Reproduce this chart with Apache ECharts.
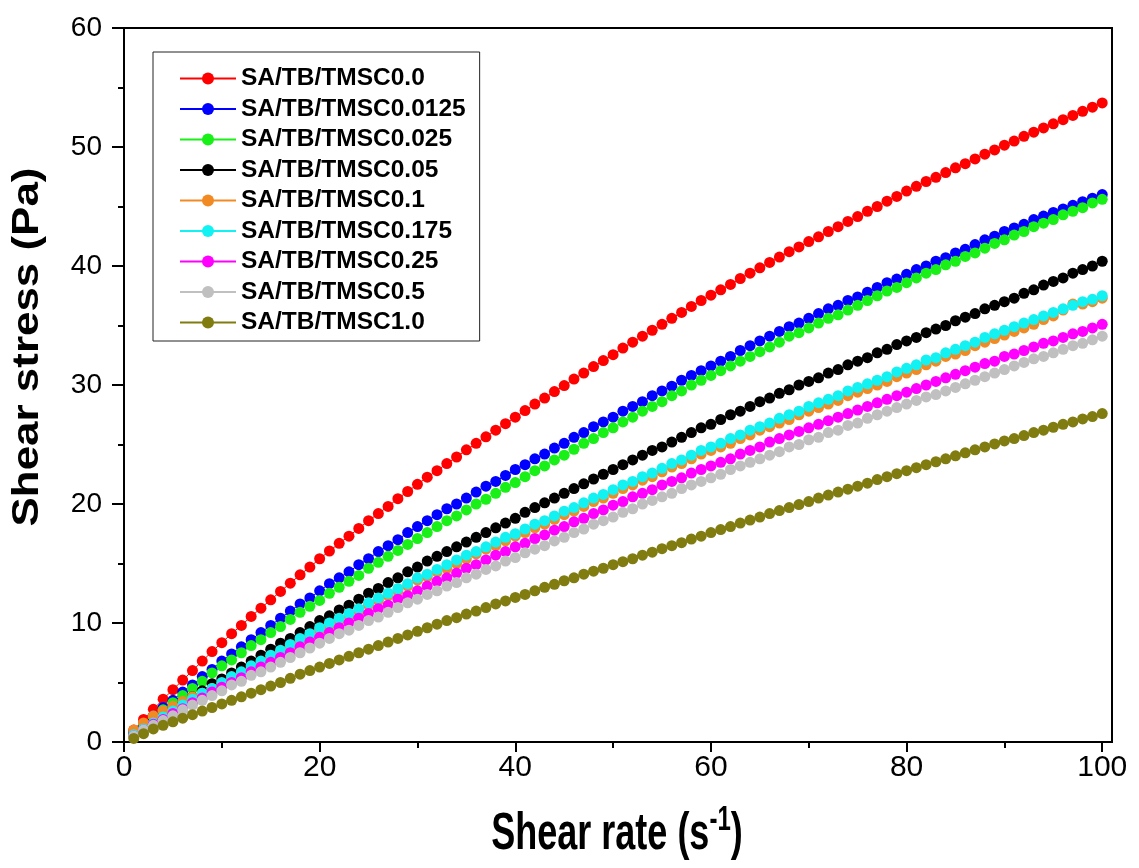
<!DOCTYPE html>
<html>
<head>
<meta charset="utf-8">
<script src="https://cdn.jsdelivr.net/npm/echarts@6/dist/echarts.min.js"></script>
<style>
  html, body { margin: 0; padding: 0; background: #fff; }
  #chart { width: 1139px; height: 868px; }
</style>
</head>
<body>
<div id="chart"></div>
<script>
// shear rate (s-1), one point per unit
const shearRate = [
  1,2,3,4,5,6,7,8,9,10,11,12,13,14,15,16,17,18,19,20,
  21,22,23,24,25,26,27,28,29,30,31,32,33,34,35,36,37,38,39,40,
  41,42,43,44,45,46,47,48,49,50,51,52,53,54,55,56,57,58,59,60,
  61,62,63,64,65,66,67,68,69,70,71,72,73,74,75,76,77,78,79,80,
  81,82,83,84,85,86,87,88,89,90,91,92,93,94,95,96,97,98,99,100
];

// shear stress (Pa)
const tmsc0_0 = [
  1.0,1.9,2.75,3.6,4.4,5.2,6.0,6.8,7.6,8.35,
  9.1,9.8,10.55,11.25,11.95,12.65,13.35,14.05,14.7,15.4,
  16.05,16.7,17.3,17.95,18.6,19.2,19.8,20.45,21.05,21.65,
  22.25,22.8,23.4,23.95,24.55,25.1,25.65,26.2,26.75,27.3,
  27.85,28.4,28.9,29.45,29.95,30.5,31.0,31.55,32.05,32.55,
  33.1,33.6,34.1,34.6,35.1,35.6,36.1,36.6,37.1,37.55,
  38.0,38.45,38.95,39.4,39.85,40.3,40.75,41.2,41.6,42.05,
  42.45,42.9,43.3,43.75,44.15,44.6,45.0,45.45,45.85,46.3,
  46.7,47.1,47.45,47.85,48.25,48.6,49.0,49.4,49.75,50.15,
  50.5,50.9,51.25,51.6,51.95,52.3,52.65,53.0,53.35,53.7
];
const tmsc0_0125 = [
  0.8,1.5,2.2,2.9,3.5,4.2,4.8,5.5,6.1,6.8,
  7.4,8.0,8.6,9.2,9.8,10.4,11.0,11.6,12.1,12.7,
  13.3,13.8,14.3,14.9,15.4,16.0,16.5,17.0,17.6,18.1,
  18.6,19.1,19.6,20.0,20.5,21.0,21.5,21.9,22.4,22.9,
  23.3,23.8,24.2,24.7,25.1,25.6,26.0,26.5,26.9,27.3,
  27.8,28.2,28.6,29.1,29.5,29.9,30.4,30.8,31.2,31.6,
  32.0,32.4,32.9,33.3,33.7,34.1,34.5,34.9,35.2,35.6,
  36.0,36.4,36.7,37.1,37.4,37.8,38.2,38.6,38.9,39.3,
  39.7,40.0,40.4,40.7,41.1,41.4,41.8,42.2,42.5,42.9,
  43.2,43.5,43.9,44.2,44.5,44.8,45.1,45.4,45.7,46.0
];
const tmsc0_025 = [
  0.7,1.4,2.1,2.7,3.3,3.9,4.5,5.1,5.8,6.4,
  6.9,7.5,8.1,8.6,9.2,9.7,10.3,10.9,11.4,11.9,
  12.5,13.0,13.5,14.0,14.6,15.1,15.6,16.1,16.6,17.1,
  17.6,18.1,18.6,19.0,19.5,20.0,20.4,20.9,21.4,21.8,
  22.3,22.8,23.2,23.7,24.1,24.6,25.1,25.5,26.0,26.4,
  26.9,27.3,27.8,28.2,28.6,29.1,29.5,30.0,30.4,30.8,
  31.2,31.6,32.0,32.4,32.8,33.2,33.6,34.1,34.4,34.8,
  35.2,35.6,35.9,36.3,36.7,37.1,37.5,37.9,38.2,38.6,
  39.0,39.4,39.7,40.1,40.4,40.8,41.1,41.5,41.9,42.2,
  42.6,42.9,43.3,43.6,43.9,44.3,44.6,44.9,45.3,45.6
];
const tmsc0_05 = [
  0.6,1.2,1.7,2.3,2.8,3.3,3.8,4.3,4.9,5.3,
  5.8,6.3,6.8,7.3,7.8,8.3,8.7,9.2,9.7,10.2,
  10.6,11.1,11.5,12.0,12.5,12.9,13.4,13.8,14.3,14.7,
  15.2,15.6,16.0,16.4,16.8,17.2,17.6,18.0,18.4,18.8,
  19.3,19.7,20.1,20.5,20.9,21.3,21.7,22.1,22.5,22.9,
  23.3,23.7,24.1,24.5,24.8,25.2,25.6,26.0,26.4,26.7,
  27.1,27.5,27.8,28.2,28.6,28.9,29.3,29.6,30.0,30.3,
  30.6,31.0,31.3,31.7,32.0,32.3,32.7,33.0,33.4,33.7,
  34.0,34.4,34.7,35.0,35.4,35.7,36.0,36.4,36.7,37.0,
  37.3,37.7,38.0,38.4,38.7,39.0,39.4,39.7,40.0,40.4
];
const tmsc0_1 = [
  1.0,1.6,2.2,2.6,3.0,3.4,3.8,4.1,4.5,4.9,
  5.3,5.7,6.2,6.6,7.1,7.5,8.0,8.5,8.9,9.4,
  9.8,10.2,10.6,11.0,11.5,11.9,12.3,12.7,13.1,13.6,
  13.9,14.3,14.6,15.0,15.4,15.8,16.2,16.5,16.9,17.3,
  17.6,18.0,18.3,18.7,19.1,19.4,19.8,20.2,20.5,20.9,
  21.3,21.6,22.0,22.3,22.7,23.1,23.4,23.8,24.2,24.5,
  24.8,25.1,25.5,25.8,26.2,26.5,26.8,27.1,27.5,27.8,
  28.1,28.4,28.7,29.1,29.4,29.7,30.0,30.3,30.7,31.0,
  31.3,31.7,32.0,32.4,32.6,32.9,33.3,33.6,33.9,34.2,
  34.5,34.8,35.1,35.5,35.8,36.3,36.8,36.8,37.0,37.3
];
const tmsc0_175 = [
  0.6,1.1,1.6,2.1,2.6,3.1,3.6,4.1,4.5,5.0,
  5.5,5.9,6.4,6.8,7.3,7.7,8.2,8.7,9.1,9.6,
  10.0,10.4,10.8,11.2,11.7,12.1,12.5,12.9,13.3,13.8,
  14.1,14.5,14.9,15.3,15.7,16.0,16.4,16.8,17.2,17.5,
  17.9,18.3,18.6,19.0,19.4,19.7,20.1,20.5,20.8,21.2,
  21.6,21.9,22.3,22.6,23.0,23.4,23.7,24.1,24.5,24.8,
  25.1,25.5,25.8,26.2,26.5,26.8,27.2,27.5,27.8,28.2,
  28.5,28.8,29.1,29.5,29.8,30.1,30.4,30.7,31.1,31.4,
  31.7,32.1,32.3,32.7,33.0,33.3,33.6,34.0,34.3,34.6,
  34.9,35.2,35.5,35.8,36.1,36.4,36.7,37.0,37.2,37.5
];
const tmsc0_25 = [
  0.5,1.0,1.5,1.9,2.4,2.8,3.3,3.7,4.2,4.6,
  5.0,5.4,5.9,6.3,6.7,7.1,7.5,8.0,8.4,8.8,
  9.2,9.6,10.0,10.4,10.8,11.2,11.5,12.0,12.3,12.7,
  13.1,13.5,13.8,14.2,14.6,14.9,15.3,15.7,16.0,16.4,
  16.7,17.1,17.4,17.8,18.1,18.5,18.8,19.2,19.5,19.9,
  20.2,20.6,20.9,21.2,21.6,21.9,22.2,22.6,22.9,23.2,
  23.5,23.8,24.2,24.5,24.8,25.2,25.5,25.8,26.1,26.4,
  26.7,27.0,27.3,27.6,27.9,28.2,28.5,28.8,29.1,29.4,
  29.7,30.0,30.3,30.6,30.9,31.2,31.5,31.8,32.0,32.4,
  32.6,32.9,33.2,33.5,33.7,34.0,34.3,34.5,34.8,35.1
];
const tmsc0_5 = [
  0.5,1.0,1.4,1.8,2.2,2.7,3.1,3.5,3.9,4.3,
  4.8,5.1,5.6,5.9,6.3,6.7,7.1,7.5,7.9,8.3,
  8.7,9.1,9.4,9.8,10.2,10.5,10.9,11.3,11.7,12.0,
  12.4,12.7,13.1,13.4,13.8,14.1,14.5,14.8,15.2,15.5,
  15.9,16.2,16.5,16.9,17.2,17.6,17.9,18.3,18.6,18.9,
  19.3,19.6,20.0,20.3,20.6,20.9,21.3,21.6,21.9,22.2,
  22.5,22.9,23.2,23.5,23.8,24.1,24.4,24.8,25.0,25.4,
  25.6,26.0,26.2,26.6,26.8,27.2,27.5,27.8,28.1,28.4,
  28.7,29.0,29.2,29.5,29.8,30.1,30.4,30.7,31.0,31.3,
  31.6,31.9,32.2,32.4,32.7,33.0,33.3,33.5,33.8,34.1
];
const tmsc1_0 = [
  0.3,0.7,1.1,1.4,1.7,2.0,2.3,2.6,2.9,3.2,
  3.5,3.8,4.1,4.4,4.7,5.0,5.35,5.7,6.0,6.3,
  6.6,6.9,7.2,7.5,7.8,8.1,8.4,8.7,9.0,9.3,
  9.6,9.9,10.2,10.45,10.75,11.0,11.3,11.6,11.85,12.15,
  12.4,12.7,13.0,13.25,13.55,13.8,14.1,14.35,14.6,14.9,
  15.15,15.4,15.7,15.95,16.25,16.5,16.75,17.05,17.3,17.6,
  17.85,18.1,18.4,18.65,18.9,19.2,19.45,19.7,19.95,20.2,
  20.5,20.75,21.0,21.25,21.5,21.75,22.05,22.3,22.55,22.8,
  23.05,23.3,23.55,23.8,24.05,24.3,24.55,24.8,25.05,25.3,
  25.5,25.75,26.0,26.2,26.45,26.7,26.9,27.15,27.35,27.6
];

const seriesNames = [
  'SA/TB/TMSC0.0', 'SA/TB/TMSC0.0125', 'SA/TB/TMSC0.025', 'SA/TB/TMSC0.05',
  'SA/TB/TMSC0.1', 'SA/TB/TMSC0.175', 'SA/TB/TMSC0.25', 'SA/TB/TMSC0.5', 'SA/TB/TMSC1.0'
];
const seriesValues = [tmsc0_0, tmsc0_0125, tmsc0_025, tmsc0_05, tmsc0_1, tmsc0_175, tmsc0_25, tmsc0_5, tmsc1_0];
const seriesColors = ['#ff0000', '#0000ff', '#18f018', '#000000', '#f28a24', '#12f2f2', '#ff00ff', '#c0c0c0', '#807c10'];

const xMajorTicks = [0, 20, 40, 60, 80, 100];
const xMinorTicks = [10, 30, 50, 70, 90];

const FONT = "'Liberation Sans', Arial, sans-serif";

const chart = echarts.init(document.getElementById('chart'));

const series = seriesNames.map((name, i) => ({
  name: name,
  type: 'line',
  xAxisIndex: 0,
  yAxisIndex: 0,
  data: shearRate.map((x, j) => [x, seriesValues[i][j]]),
  symbol: 'circle',
  symbolSize: 11,
  showSymbol: true,
  itemStyle: { color: seriesColors[i] },
  lineStyle: { color: seriesColors[i], width: 1 },
  emphasis: { disabled: true }
}));

const option = {
  animation: false,
  grid: {
    left: 124,
    right: 27,
    top: 28,
    bottom: 126,
    show: true,
    borderColor: '#000',
    borderWidth: 2,
    backgroundColor: 'transparent'
  },
  legend: {
    orient: 'vertical',
    left: 153,
    top: 52,
    data: seriesNames,
    itemWidth: 56,
    itemHeight: 15,
    itemGap: 5.5,
    padding: [14, 14, 6, 26],
    borderColor: '#222',
    borderWidth: 1,
    backgroundColor: '#fff',
    textStyle: { fontSize: 24.5, fontWeight: 'bold', fontFamily: FONT, color: '#000' }
  },
  // axis titles, stretched like the source figure
  graphic: [
    {
      type: 'text',
      x: 617,
      y: 832,
      scaleY: 1.45,
      style: {
        text: '{a|Shear rate (s}{b|-1}{a|)}',
        textAlign: 'center',
        textVerticalAlign: 'middle',
        rich: {
          a: { fontSize: 36, fontWeight: 'bold', fontFamily: FONT, fill: '#000', lineHeight: 40, verticalAlign: 'bottom' },
          b: { fontSize: 24, fontWeight: 'bold', fontFamily: FONT, fill: '#000', lineHeight: 20, verticalAlign: 'top' }
        }
      }
    },
    {
      type: 'text',
      x: 28,
      y: 347,
      rotation: Math.PI / 2,
      scaleX: 1.22,
      style: {
        text: 'Shear stress (Pa)',
        fontSize: 36,
        fontWeight: 'bold',
        fontFamily: FONT,
        fill: '#000',
        textAlign: 'center',
        textVerticalAlign: 'middle'
      }
    }
  ],
  xAxis: [
    {
      type: 'value',
      min: 0,
      max: 101,
      position: 'bottom',
      axisLine: { show: true, lineStyle: { color: '#000', width: 2 } },
      axisTick: { show: true, length: 10, customValues: xMajorTicks, lineStyle: { color: '#000', width: 2 } },
      axisLabel: { customValues: xMajorTicks, fontSize: 30, fontFamily: FONT, color: '#000', margin: 11 },
      splitLine: { show: false }
    },
    {
      type: 'value',
      min: 0,
      max: 101,
      position: 'bottom',
      axisLine: { show: false },
      axisTick: { show: true, length: 6, customValues: xMinorTicks, lineStyle: { color: '#000', width: 2 } },
      axisLabel: { show: false },
      splitLine: { show: false }
    }
  ],
  yAxis: {
    type: 'value',
    min: 0,
    max: 60,
    interval: 10,
    axisLine: { show: true, lineStyle: { color: '#000', width: 2 } },
    axisTick: { show: true, length: 12, lineStyle: { color: '#000', width: 2 } },
    minorTick: { show: true, splitNumber: 2, length: 6, lineStyle: { color: '#000', width: 2 } },
    axisLabel: { fontSize: 28, fontFamily: FONT, color: '#000', margin: 22 },
    splitLine: { show: false },
    minorSplitLine: { show: false }
  },
  series: series
};

chart.setOption(option);
</script>
</body>
</html>
